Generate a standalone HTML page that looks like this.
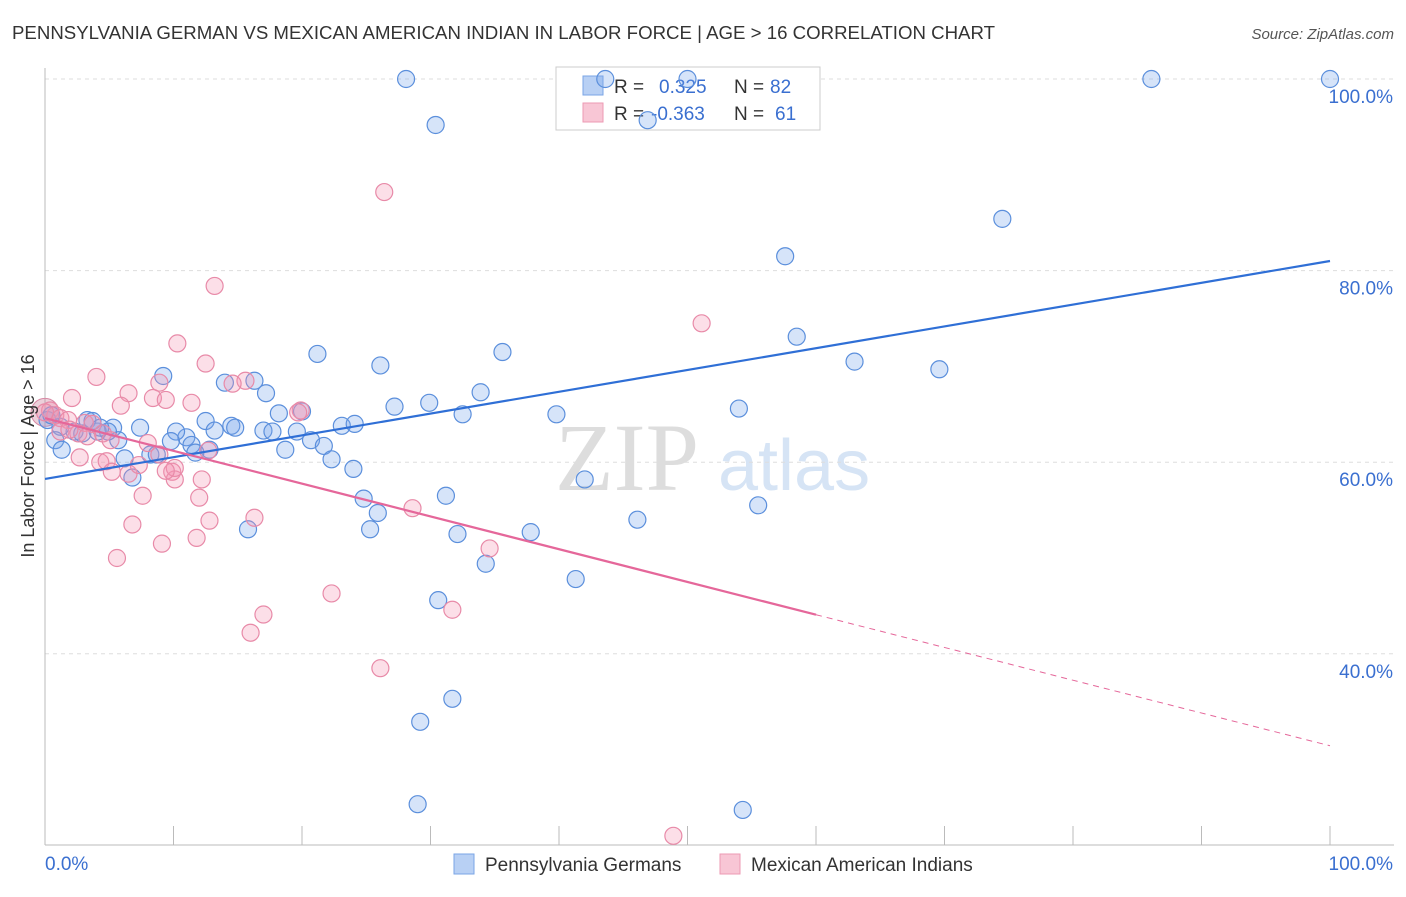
<!DOCTYPE html>
<html><head><meta charset="utf-8"><style>
body{margin:0;background:#fff;font-family:"Liberation Sans",sans-serif}
</style></head><body>
<svg id="chart" width="1406" height="892" xmlns="http://www.w3.org/2000/svg" font-family="Liberation Sans, sans-serif">
<text x="12" y="39" font-size="18" fill="#333" textLength="983" lengthAdjust="spacingAndGlyphs">PENNSYLVANIA GERMAN VS MEXICAN AMERICAN INDIAN IN LABOR FORCE | AGE &gt; 16 CORRELATION CHART</text>
<text x="1394" y="39" font-size="15" fill="#555" text-anchor="end" font-style="italic">Source: ZipAtlas.com</text>
<g>
<text x="555" y="490" font-size="96" fill="#ddd" font-family="Liberation Serif, serif">ZIP</text>
<text x="718" y="490" font-size="72" fill="#d6e4f5">atlas</text>
</g>
<g id="grid"></g><g id="axes"></g>
<g>
<rect x="556" y="67" width="264" height="63" fill="#fff" stroke="#ccc"/>
<rect x="583" y="76" width="20" height="19" fill="#b8d0f4" stroke="#7aa5e6"/>
<rect x="583" y="103" width="20" height="19" fill="#f8c6d5" stroke="#ec9ab3"/>
<text x="614" y="93" font-size="19" fill="#333">R =</text>
<text x="659" y="93" font-size="19" fill="#3a6fd0">0.325</text>
<text x="734" y="93" font-size="19" fill="#333">N =</text>
<text x="770" y="93" font-size="19" fill="#3a6fd0">82</text>
<text x="614" y="120" font-size="19" fill="#333">R =</text>
<text x="651" y="120" font-size="19" fill="#3a6fd0">-0.363</text>
<text x="734" y="120" font-size="19" fill="#333">N =</text>
<text x="775" y="120" font-size="19" fill="#3a6fd0">61</text>
</g>
<g id="marks"></g><g id="lines"></g>
<g>
<rect x="454" y="854" width="20" height="20" fill="#b8d0f4" stroke="#7aa5e6"/>
<text x="485" y="871" font-size="19" fill="#333">Pennsylvania Germans</text>
<rect x="720" y="854" width="20" height="20" fill="#f8c6d5" stroke="#ec9ab3"/>
<text x="751" y="871" font-size="19" fill="#333">Mexican American Indians</text>
</g>
<text transform="translate(34,456) rotate(-90)" font-size="18" fill="#333" text-anchor="middle">In Labor Force | Age &gt; 16</text>
</svg>
<script>
const blueX=[28.1,30.4,43.6,50.0,46.9,86.1,100,74.5,57.6,58.5,63.0,69.6,54.0,21.2,26.1,35.6,33.9,27.2,29.9,32.5,39.8,9.2,14.0,16.3,17.2,18.2,20.0,12.5,14.5,14.8,13.2,11.0,10.2,9.8,11.4,12.8,11.7,17.0,17.7,19.6,20.7,21.7,18.7,22.3,23.1,24.1,24.0,7.4,5.3,3.3,2.3,2.9,1.2,0.8,1.3,5.7,6.2,6.8,8.2,8.7,15.8,24.8,25.3,25.9,31.2,32.1,34.3,37.8,41.3,42.0,46.1,55.5,30.6,31.7,29.2,29.0,54.3,4.9,4.1,3.7,4.3,0.2,0.5];
const blueY=[100,95.2,100,100,95.7,100,100,85.4,81.5,73.1,70.5,69.7,65.6,71.3,70.1,71.5,67.3,65.8,66.2,65.0,65.0,69.0,68.3,68.5,67.2,65.1,65.3,64.3,63.8,63.6,63.3,62.6,63.2,62.2,61.8,61.3,61.0,63.3,63.2,63.2,62.3,61.7,61.3,60.3,63.8,64.0,59.3,63.6,63.6,64.4,63.2,63.0,63.7,62.3,61.3,62.3,60.4,58.4,60.8,60.8,53.0,56.2,53.0,54.7,56.5,52.5,49.4,52.7,47.8,58.2,54.0,55.5,45.6,35.3,32.9,24.3,23.7,63.2,63.2,64.3,63.6,64.4,64.9];
const pinkX=[26.4,13.2,10.3,51.1,12.5,4.0,8.9,6.5,2.1,5.9,8.4,11.4,9.4,15.6,14.6,19.9,19.7,0.4,0.8,1.2,1.8,3.1,3.7,4.5,0,2.6,5.1,8.0,2.7,4.3,4.8,5.2,6.5,7.3,9.9,10.1,10.1,9.4,12.2,12.7,7.6,6.8,12.0,12.8,9.1,11.8,16.3,5.6,28.6,34.6,22.3,17.0,16.0,31.7,26.1,48.9,8.9,1.2,1.9,3.3];
const pinkY=[88.2,78.4,72.4,74.5,70.3,68.9,68.3,67.2,66.7,65.9,66.7,66.2,66.5,68.5,68.2,65.4,65.2,65.4,64.9,64.6,64.4,64.1,64.0,63.0,65.2,63.0,62.3,62.0,60.5,60.0,60.1,59.0,58.8,59.7,59.0,58.2,59.4,59.1,58.2,61.2,56.5,53.5,56.3,53.9,51.5,52.1,54.2,50.0,55.2,51.0,46.3,44.1,42.2,44.6,38.5,21.0,60.8,63.2,63.4,62.7];
const yTicks=[100,80,60,40];
const yTickLabels=["100.0%","80.0%","60.0%","40.0%"];
const xTicks=[0,10,20,30,40,50,60,70,80,90,100];
const blueTrend=[58.25,81.0];
const pinkTrend=[64.6,30.4];
const pinkSolidEnd=60;

const NS="http://www.w3.org/2000/svg";
const xs=v=>45+v*12.85;
const ys=v=>79+(100-v)*9.58;
function mk(tag,attrs,parent){const e=document.createElementNS(NS,tag);for(const k in attrs)e.setAttribute(k,attrs[k]);parent.appendChild(e);return e;}
const grid=document.getElementById('grid'),axes=document.getElementById('axes'),marks=document.getElementById('marks'),lines=document.getElementById('lines');
yTicks.forEach((t,i)=>{
 const g=mk('line',{x1:45,x2:1394,y1:ys(t),y2:ys(t),stroke:'#ddd','stroke-dasharray':'4,4'},grid);
 
 
 const l=mk('text',{x:1393,y:ys(t)+24,'font-size':19,fill:'#3a6fd0','text-anchor':'end'},axes);
 l.textContent=yTickLabels[i];
 
 
});
const ax=mk('line',{x1:45,x2:45,y1:68,y2:845,stroke:'#bbb'},axes);


const bx=mk('line',{x1:45,x2:1394,y1:845,y2:845,stroke:'#bbb'},axes);


xTicks.forEach(t=>{
 const k=mk('line',{x1:xs(t),x2:xs(t),y1:826,y2:845,stroke:'#bbb'},axes);
 
 
});
const x0=mk('text',{x:45,y:870,'font-size':19,fill:'#3a6fd0'},axes);x0.textContent='0.0%';


const x1=mk('text',{x:1393,y:870,'font-size':19,fill:'#3a6fd0','text-anchor':'end'},axes);x1.textContent='100.0%';


const big=mk('circle',{cx:xs(0),cy:ys(65.2),r:14,fill:'rgba(200,120,150,0.35)',stroke:'#d88aa5'},marks);


blueX.forEach((x,i)=>{
 const c=mk('circle',{cx:xs(x),cy:ys(blueY[i]),r:8.5,fill:'rgba(120,165,235,0.3)',stroke:'#5b8fdc','stroke-width':1.2},marks);
 
 
});
pinkX.forEach((x,i)=>{
 const c=mk('circle',{cx:xs(x),cy:ys(pinkY[i]),r:8.5,fill:'rgba(245,150,180,0.3)',stroke:'#e88aa8','stroke-width':1.2},marks);
 
 
});
const bl=mk('line',{x1:xs(0),y1:ys(blueTrend[0]),x2:xs(100),y2:ys(blueTrend[1]),stroke:'#2f6fd6','stroke-width':2.2},lines);


const pm=pinkTrend[0]+(pinkTrend[1]-pinkTrend[0])*pinkSolidEnd/100;
const pl=mk('line',{x1:xs(0),y1:ys(pinkTrend[0]),x2:xs(pinkSolidEnd),y2:ys(pm),stroke:'#e5679a','stroke-width':2.2},lines);


const pd=mk('line',{x1:xs(pinkSolidEnd),y1:ys(pm),x2:xs(100),y2:ys(pinkTrend[1]),stroke:'#e5679a','stroke-width':1,'stroke-dasharray':'6,5'},lines);


</script>
</body></html>
